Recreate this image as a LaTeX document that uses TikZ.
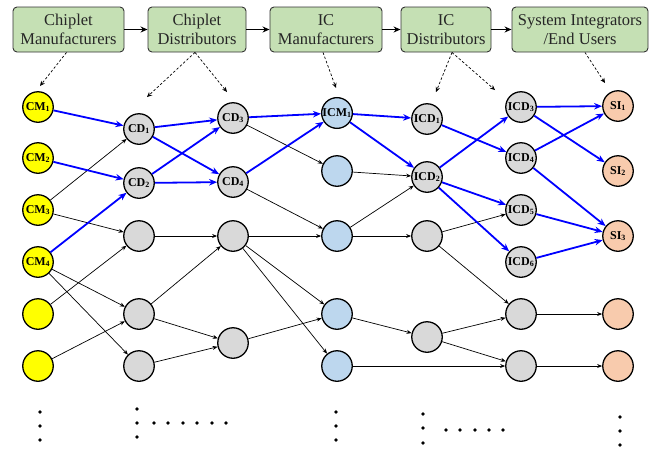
\documentclass[tikz,border=0pt]{standalone}
\usepackage{fontspec}
\setmainfont{Liberation Serif}
\usetikzlibrary{arrows.meta,calc}

\definecolor{hdrgreen}{RGB}{197,224,180}
\definecolor{cmyellow}{RGB}{255,255,0}
\definecolor{nodegray}{RGB}{217,217,217}
\definecolor{icblue}{RGB}{189,215,238}
\definecolor{sipeach}{RGB}{248,203,173}

\tikzset{
  hdr/.style={draw=black!80, line width=0.9pt, fill=hdrgreen, rounded corners=4pt,
    align=center, inner sep=0pt, minimum height=45pt,
    font=\fontsize{16.5}{19}\selectfont, text=black!85},
  ent/.style={circle, draw=black, line width=1.3pt, minimum size=30.5pt, inner sep=0pt,
    font=\fontsize{12}{13}\selectfont\bfseries},
  cmnode/.style={ent, fill=cmyellow},
  grnode/.style={ent, fill=nodegray},
  icnode/.style={ent, fill=icblue},
  sinode/.style={ent, fill=sipeach},
  flow/.style={line width=0.7pt, -{Stealth[length=5pt,width=4pt]}},
  sel/.style={blue, line width=1.8pt, -{Stealth[length=8pt,width=6.5pt]}},
  chainarrow/.style={line width=1.3pt, -{Stealth[length=7pt,width=6pt]}},
  hint/.style={line width=0.7pt, dash pattern=on 2.5pt off 2pt, -{Stealth[length=5pt,width=4.5pt]}},
  dotmark/.style={circle, fill=black, inner sep=0pt, minimum size=3.8pt}
}

\begin{document}
\begin{tikzpicture}[x=1pt,y=-1pt]
\useasboundingbox (0,0) rectangle (653,448);

% stage headers
\node[hdr, minimum width=111pt] (h1) at (68.5,29.5) {Chiplet\\Manufacturers};
\node[hdr, minimum width=98pt]  (h2) at (197,29.5) {Chiplet\\Distributors};
\node[hdr, minimum width=112pt] (h3) at (326,29.5) {IC\\Manufacturers};
\node[hdr, minimum width=90pt]  (h4) at (446,29.5) {IC\\Distributors};
\node[hdr, minimum width=136pt] (h5) at (580,29.5) {System Integrators\\/End Users};

\draw[chainarrow] (h1) -- (h2);
\draw[chainarrow] (h2) -- (h3);
\draw[chainarrow] (h3) -- (h4);
\draw[chainarrow] (h4) -- (h5);

% chiplet manufacturers
\node[cmnode] (cm1) at (38,107) {CM\textsubscript{1}};
\node[cmnode] (cm2) at (38,158) {CM\textsubscript{2}};
\node[cmnode] (cm3) at (38,210) {CM\textsubscript{3}};
\node[cmnode] (cm4) at (38,262) {CM\textsubscript{4}};
\node[cmnode] (cm5) at (38,314) {};
\node[cmnode] (cm6) at (38,366) {};

% chiplet distributors, first tier
\node[grnode] (cd1) at (139,129) {CD\textsubscript{1}};
\node[grnode] (cd2) at (139,183) {CD\textsubscript{2}};
\node[grnode] (p3)  at (139,236) {};
\node[grnode] (p4)  at (139,314) {};
\node[grnode] (p5)  at (139,366) {};

% chiplet distributors, second tier
\node[grnode] (cd3) at (233,118) {CD\textsubscript{3}};
\node[grnode] (cd4) at (233,182) {CD\textsubscript{4}};
\node[grnode] (q3)  at (233,236) {};
\node[grnode] (q4)  at (233,343) {};

% IC manufacturers
\node[icnode] (icm1) at (337,113) {ICM\textsubscript{1}};
\node[icnode] (m2)   at (337,171) {};
\node[icnode] (m3)   at (337,236) {};
\node[icnode] (m4)   at (337,314) {};
\node[icnode] (m5)   at (337,366) {};

% IC distributors, first tier
\node[grnode] (icd1) at (427,119) {ICD\textsubscript{1}};
\node[grnode] (icd2) at (427,177) {ICD\textsubscript{2}};
\node[grnode] (r3)   at (427,236) {};
\node[grnode] (r4)   at (427,337) {};

% IC distributors, second tier
\node[grnode] (icd3) at (521,107) {ICD\textsubscript{3}};
\node[grnode] (icd4) at (521,158) {ICD\textsubscript{4}};
\node[grnode] (icd5) at (521,210) {ICD\textsubscript{5}};
\node[grnode] (icd6) at (521,262) {ICD\textsubscript{6}};
\node[grnode] (s5)   at (521,314) {};
\node[grnode] (s6)   at (521,366) {};

% system integrators / end users
\node[sinode] (si1) at (618,106) {SI\textsubscript{1}};
\node[sinode] (si2) at (618,171) {SI\textsubscript{2}};
\node[sinode] (si3) at (618,236) {SI\textsubscript{3}};
\node[sinode] (t4)  at (618,314) {};
\node[sinode] (t5)  at (618,366) {};

% header-to-stage pointers
\coordinate (d1)  at (40,86);
\coordinate (d2a) at (147,97);
\coordinate (d2b) at (227,92);
\coordinate (d3)  at (336,88);
\coordinate (d4a) at (436,92);
\coordinate (d4b) at (495,90);
\coordinate (d5)  at (605,83);
\draw[hint] ($(h1.south)+(-2,0)$) -- (d1);
\draw[hint] ($(h2.south)+(-2,0)$) -- (d2a);
\draw[hint] ($(h2.south)+(-2,0)$) -- (d2b);
\draw[hint] ($(h3.south)+(-3,0)$) -- (d3);
\draw[hint] ($(h4.south)+(6,0)$) -- (d4a);
\draw[hint] ($(h4.south)+(6,0)$) -- (d4b);
\draw[hint] ($(h5.south)+(5,0)$) -- (d5);

% ordinary supply links
\draw[flow] (cm3) -- (cd1);
\draw[flow] (cm3) -- (p3);
\draw[flow] (cm4) -- (p4);
\draw[flow] (cm4) -- (p5);
\draw[flow] (cm5) -- (p3);
\draw[flow] (cm6) -- (p4);
\draw[flow] (cd3) -- (m2);
\draw[flow] (cd4) -- (m3);
\draw[flow] (p3) -- (q3);
\draw[flow] (p4) -- (q3);
\draw[flow] (p4) -- (q4);
\draw[flow] (p5) -- (q4);
\draw[flow] (q3) -- (m3);
\draw[flow] (q3) -- (m4);
\draw[flow] (q3) -- (m5);
\draw[flow] (q4) -- (m4);
\draw[flow] (m2) -- (icd2);
\draw[flow] (m3) -- (icd2);
\draw[flow] (m3) -- (r3);
\draw[flow] (m4) -- (r4);
\draw[flow] (m5) -- (s6);
\draw[flow] (r3) -- (icd5);
\draw[flow] (r3) -- (s5);
\draw[flow] (r4) -- (s5);
\draw[flow] (r4) -- (s6);
\draw[flow] (s5) -- (t4);
\draw[flow] (s6) -- (t5);

% highlighted links
\draw[sel] (cm1) -- (cd1);
\draw[sel] (cm2) -- (cd2);
\draw[sel] (cm4) -- (cd2);
\draw[sel] (cd1) -- (cd3);
\draw[sel] (cd1) -- (cd4);
\draw[sel] (cd2) -- (cd3);
\draw[sel] (cd2) -- (cd4);
\draw[sel] (cd3) -- (icm1);
\draw[sel] (cd4) -- (icm1);
\draw[sel] (icm1) -- (icd1);
\draw[sel] (icm1) -- (icd2);
\draw[sel] (icd1) -- (icd4);
\draw[sel] (icd2) -- (icd3);
\draw[sel] (icd2) -- (icd5);
\draw[sel] (icd2) -- (icd6);
\draw[sel] (icd3) -- (si1);
\draw[sel] (icd3) -- (si2);
\draw[sel] (icd4) -- (si1);
\draw[sel] (icd4) -- (si3);
\draw[sel] (icd5) -- (si3);
\draw[sel] (icd6) -- (si3);

% continuation dots
\foreach \yy [count=\i] in {412,426,440} {
  \node[dotmark] (ea\i) at (40,\yy) {};
  \node[dotmark] (ec\i) at (336,\yy) {};
}
\foreach \yy [count=\i] in {409,423,437} {
  \node[dotmark] (eb\i) at (137,\yy) {};
}
\foreach \xx [count=\i] in {154,168,183,197,212,226} {
  \node[dotmark] (ebh\i) at (\xx,423) {};
}
\foreach \yy [count=\i] in {414,428,443} {
  \node[dotmark] (ed\i) at (423,\yy) {};
}
\foreach \xx [count=\i] in {446,460,475,489,503} {
  \node[dotmark] (edh\i) at (\xx,430) {};
}
\foreach \yy [count=\i] in {417,431,445} {
  \node[dotmark] (ee\i) at (620,\yy) {};
}
\end{tikzpicture}
\end{document}
